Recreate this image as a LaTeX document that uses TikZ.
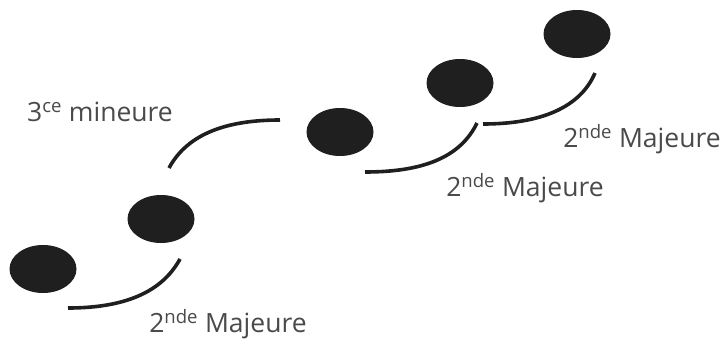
\documentclass[tikz,border=0pt]{standalone}
\usepackage{fontspec}
\setmainfont{Open Sans}
\usetikzlibrary{shapes.geometric}
\definecolor{txtgray}{HTML}{4a4a4a}
\tikzset{
  note/.style={ellipse,fill=black!88,minimum width=67pt,minimum height=48pt,inner sep=0pt},
  interval/.style={line width=3.6pt,black!88},
  lbl/.style={text=txtgray,font=\fontsize{26.5}{30}\selectfont,inner sep=0pt}
}
\begin{document}
\begin{tikzpicture}[x=1pt,y=-1pt]
\useasboundingbox (0,0) rectangle (726,340);
% notes
\node[note] (n1) at (43,269) {};
\node[note] (n2) at (161,219) {};
\node[note] (n3) at (340,132) {};
\node[note] (n4) at (460,83) {};
\node[note] (n5) at (577,34) {};
% intervals
\draw[interval] (68,308) .. controls (125,308) and (162,292) .. (180,259);
\draw[interval] (169,168) .. controls (188,133) and (228,120) .. (280,120);
\draw[interval] (365,172) .. controls (422,172) and (460,158) .. (477,123);
\draw[interval] (483,124) .. controls (540,124) and (580,108) .. (595,73);
% labels
\node[lbl] (l1) at (228,324) {2\textsuperscript{nde} Majeure};
\node[lbl] (l2) at (100,112) {3\textsuperscript{ce} mineure};
\node[lbl] (l3) at (525,188) {2\textsuperscript{nde} Majeure};
\node[lbl] (l4) at (642,139) {2\textsuperscript{nde} Majeure};
\end{tikzpicture}
\end{document}
